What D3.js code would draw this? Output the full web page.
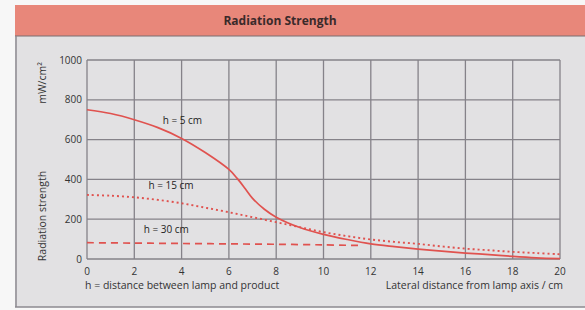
<!DOCTYPE html>
<html><head><meta charset="utf-8">
<script src="https://cdn.jsdelivr.net/npm/d3@7"></script>
<style>body{margin:0;background:#f7f7f7;}svg{display:block;}text{font-family:"Open Sans",sans-serif;}</style>
</head><body><svg id="c" width="585" height="310"></svg>
<script>
const xTicks = [0,2,4,6,8,10,12,14,16,18,20];
const yTicks = [0,200,400,600,800,1000];
const xs5 = [0,1,2,3,4,5,6,6.35,6.7,7,7.5,8,9,10,11,12,13,14,15,16,17,18,19,20];
const h5  = [750,731,700,660,606,535,450,405,352,305,250,210,158,124,98,76,62,50,40,30,22,13,6,2];
const xs15 = [0,1,2,3,4,5,6,7,8,9,10,11,12,13,14,15,16,17,18,19,20];
const h15  = [322,318,310,297,280,258,235,210,185,160,135,115,98,86,76,63,52,44,36,30,24];
const xs30 = [0,2,4,6,8,10,11.5];
const h30  = [82,80,78,76,74,71,68];
const labels = ["h = 5 cm","h = 15 cm","h = 30 cm"];

const svg = d3.select("#c");
svg.append("rect").attr("x",15).attr("y",5).attr("width",575).attr("height",302).attr("fill","#e2e1e3");
svg.append("rect").attr("x",15).attr("y",5).attr("width",575).attr("height",31).attr("fill","#e8877a");
svg.append("line").attr("x1",15).attr("x2",585).attr("y1",36).attr("y2",36).attr("stroke","#7a6e70").attr("stroke-width",1.2);
svg.append("line").attr("x1",16).attr("x2",16).attr("y1",36).attr("y2",307).attr("stroke","#8c8a90").attr("stroke-width",1.5);
svg.append("line").attr("x1",15).attr("x2",585).attr("y1",307).attr("y2",307).attr("stroke","#8c8a90").attr("stroke-width",1.5);
svg.append("text").attr("x",280).attr("y",25).attr("text-anchor","middle").attr("font-size",12).attr("font-weight","bold").attr("fill","#3a2a2a").text("Radiation Strength");

const x = d3.scaleLinear().domain([0,20]).range([87,560]);
const y = d3.scaleLinear().domain([0,1000]).range([259,60]);
const g = svg.append("g");
g.selectAll(".vx").data(xTicks).join("line").attr("x1",d=>x(d)).attr("x2",d=>x(d)).attr("y1",y(0)).attr("y2",y(1000)).attr("stroke","#858289").attr("stroke-width",1.3);
g.selectAll(".hy").data(yTicks).join("line").attr("y1",d=>y(d)).attr("y2",d=>y(d)).attr("x1",x(0)).attr("x2",x(20)).attr("stroke","#858289").attr("stroke-width",1.3);
g.selectAll(".xt").data(xTicks).join("text").attr("x",d=>x(d)).attr("y",275).attr("text-anchor","middle").attr("font-size",10).attr("fill","#333").text(d=>d);
g.selectAll(".yt").data(yTicks).join("text").attr("x",82).attr("y",d=>y(d)+3.5).attr("text-anchor","end").attr("font-size",10).attr("fill","#333").text(d=>d);
svg.append("text").attr("x",85).attr("y",289).attr("font-size",10.5).attr("fill","#333").text("h = distance between lamp and product");
svg.append("text").attr("x",563).attr("y",289).attr("text-anchor","end").attr("font-size",10.5).attr("fill","#333").text("Lateral distance from lamp axis / cm");
svg.append("text").attr("transform","translate(46,83) rotate(-90)").attr("text-anchor","middle").attr("font-size",10.5).attr("fill","#333").text("mW/cm²");
svg.append("text").attr("transform","translate(46,216) rotate(-90)").attr("text-anchor","middle").attr("font-size",10.5).attr("fill","#333").text("Radiation strength");

const line = d3.line().x(d=>x(d[0])).y(d=>y(d[1])).curve(d3.curveCatmullRom);
const red = "#e0524f";
g.append("path").attr("d",line(xs30.map((v,i)=>[v,h30[i]]))).attr("fill","none").attr("stroke",red).attr("stroke-width",1.7).attr("stroke-dasharray","7,5");
g.append("path").attr("d",line(xs15.map((v,i)=>[v,h15[i]]))).attr("fill","none").attr("stroke",red).attr("stroke-width",1.9).attr("stroke-dasharray","2,3");
g.append("path").attr("d",line(xs5.map((v,i)=>[v,h5[i]]))).attr("fill","none").attr("stroke",red).attr("stroke-width",1.7);
const lp = [[3.2,680],[2.6,352],[2.4,132]];
g.selectAll(".cl").data(labels).join("text").attr("x",(d,i)=>x(lp[i][0])).attr("y",(d,i)=>y(lp[i][1])).attr("font-size",10).attr("fill","#222").text(d=>d);
</script></body></html>
